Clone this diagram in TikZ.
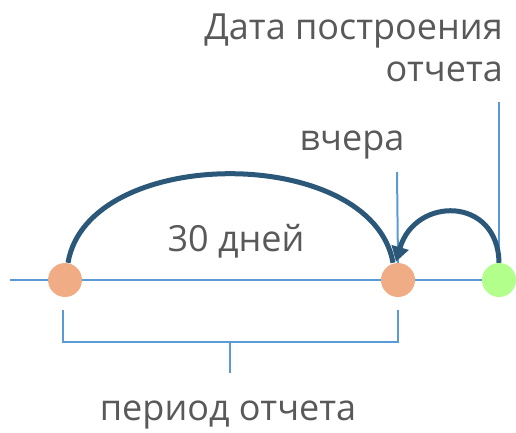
\documentclass[tikz,border=0pt]{standalone}
\usepackage{fontspec}
\setmainfont{Open Sans}
\usetikzlibrary{arrows.meta}
\definecolor{txtgray}{HTML}{595959}
\definecolor{axisblue}{HTML}{5B9BD5}
\definecolor{arcblue}{HTML}{2B5878}
\definecolor{dotorange}{HTML}{F0AD85}
\definecolor{dotgreen}{HTML}{B3FF8C}
\tikzset{
	dot/.style={circle, minimum size=34pt, inner sep=0pt},
	lbl/.style={color=txtgray, font=\fontsize{36}{42}\selectfont, inner sep=0pt},
	axis/.style={line width=2pt, color=axisblue},
	jump/.style={line width=5pt, color=arcblue}
}
\begin{document}
\begin{tikzpicture}[x=1pt, y=1pt]
			%%%%% START %%%%%
			\useasboundingbox (0, 0) rectangle (516, 432);
			
			\coordinate (start) at (10, 152);
			\node[dot, fill=dotorange] (first) at (65, 152) {};
			\node[dot, fill=dotorange] (yesterday) at (398, 152) {};
			\node[dot, fill=dotgreen] (today) at (499, 152) {};
			
			\draw[axis] (start) -- (first) -- (yesterday) -- (today);
			
			\node[lbl, align=right, anchor=base east] (datelbl) at (503, 350) {Дата построения\\отчета};
			\node[lbl, anchor=base] (yestlbl) at (352, 282) {вчера};
			\node[lbl, anchor=base] (dayslbl) at (236, 181) {30 дней};
			\node[lbl, anchor=base] (periodlbl) at (228, 12) {период отчета};
			
			\coordinate (yesttop) at (397, 260);
			\coordinate (todaytop) at (499, 330);
			\draw[axis] (yesttop) -- (yesterday.north);
			\draw[axis] (todaytop) -- (today.north);
			
			\coordinate (brl) at (63, 122);
			\coordinate (brr) at (398, 122);
			\coordinate (brmid) at (230, 90);
			\coordinate (brtick) at (230, 59);
			\draw[axis] (brl) -- (brl |- brmid) -- (brr |- brmid) -- (brr);
			\draw[axis] (brmid) -- (brtick);
			
			\draw[jump] ([xshift=3pt]first.north)
				.. controls (88, 288) and (372, 288) .. ([xshift=-5pt]yesterday.north);
			\draw[jump, -{Triangle[length=15pt, width=17pt]}] (today.north)
				.. controls (498, 236) and (415, 236) .. ([xshift=-2pt, yshift=1pt]yesterday.north);
			
			%%%%% END %%%%%
\end{tikzpicture}
\end{document}
